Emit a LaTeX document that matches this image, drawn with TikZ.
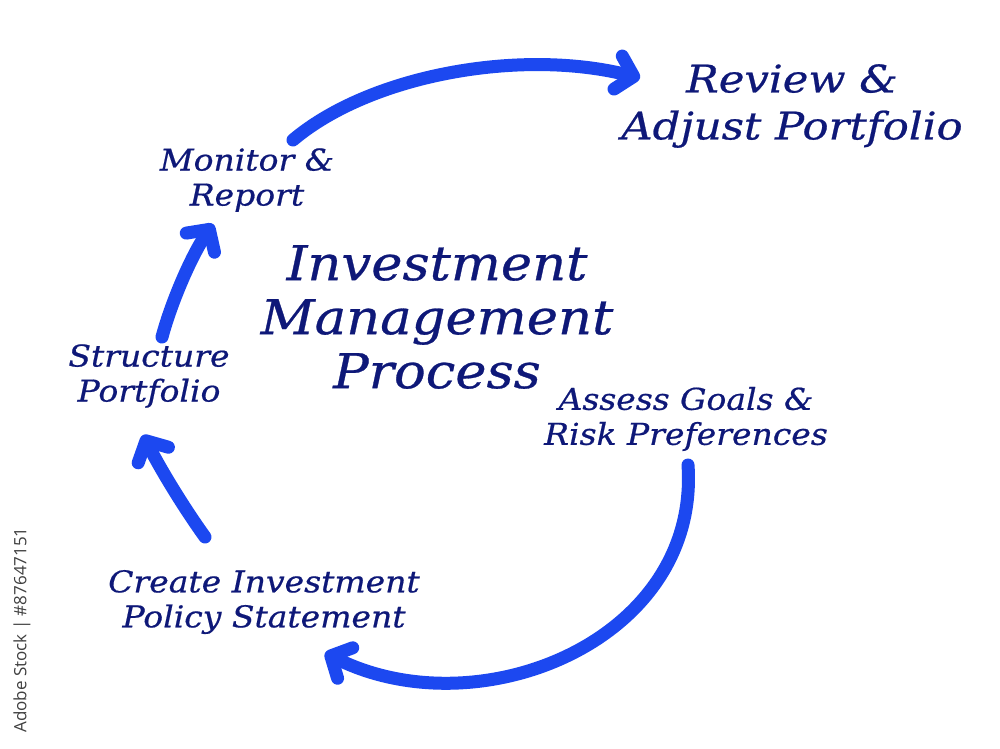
\documentclass[tikz,border=0pt]{standalone}
\usepackage{fontspec}
\setmainfont{DejaVu Serif}
\newfontfamily\hand{DejaVu Serif}[UprightFont=* Italic, FakeStretch=1.1, FakeBold=0.6]
\newfontfamily\handwide{DejaVu Serif}[UprightFont=* Italic, FakeStretch=1.14, FakeBold=0.6]
\newfontfamily\wmfont{Open Sans}
\usetikzlibrary{arrows.meta,calc}
\definecolor{navy}{RGB}{14,24,120}
\definecolor{arrblue}{RGB}{28,72,240}
\tikzset{
  lbl/.style={text=navy, align=center, inner sep=0pt, font=\hand\fontsize{30}{35}\selectfont},
  big/.style={lbl, font=\handwide\fontsize{38}{47}\selectfont},
  title/.style={lbl, font=\hand\fontsize{48}{54}\selectfont},
  arr/.style={draw=arrblue, line width=13pt, line cap=round, line join=round,
    -{Straight Barb[round, length=16pt, width=34pt]}},
}
\begin{document}
\begin{tikzpicture}[x=1pt,y=-1pt]
\useasboundingbox[fill=white] (0,0) rectangle (1000,748);
\node[title] (title) at (437,317) {Investment\\Management\\Process};
\node[big] (review) at (792,106) {Review \&\\Adjust Portfolio};
\node[lbl] (monitor) at (247,180) {Monitor \&\\Report};
\node[lbl] (structure) at (149,376) {Structure\\Portfolio};
\node[lbl] (assess) at (686,419) {Assess Goals \&\\Risk Preferences};
\node[lbl] (create) at (264,602) {Create Investment\\Policy Statement};
\node[rotate=90, text=black!75, inner sep=0pt, font=\wmfont\fontsize{17}{17}\selectfont] (wm) at (22,630) {Adobe Stock | \#87647151};

\draw[arr] ($(monitor)+(46,-40)$) .. controls (370,75) and (520,48) .. ($(review)+(-152,-28)$);
\draw[arr] ($(structure)+(13,-39)$) .. controls (172,300) and (192,255) .. ($(monitor)+(-34,44)$);
\draw[arr] ($(create)+(-59,-65)$) .. controls (182,505) and (160,468) .. ($(structure)+(-6,59)$);
\draw[arr] ($(assess)+(2,46)$) .. controls (700,640) and (480,730) .. ($(create)+(61,51)$);
\end{tikzpicture}
\end{document}
